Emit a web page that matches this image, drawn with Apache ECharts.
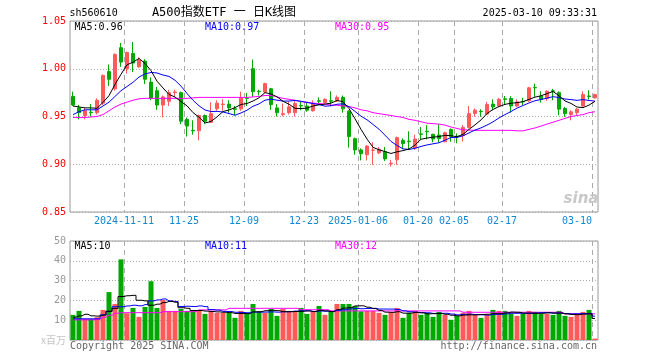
<!DOCTYPE html>
<html><head><meta charset="utf-8">
<script src="https://cdn.jsdelivr.net/npm/echarts@6/dist/echarts.min.js"></script>
<style>html,body{margin:0;padding:0;background:#fff}#c{width:660px;height:360px}</style>
</head><body><div id="c"></div>
<script>
const dates = [
'2024-10-29','2024-10-30','2024-10-31','2024-11-01','2024-11-04','2024-11-05','2024-11-06','2024-11-07','2024-11-08','2024-11-11',
'2024-11-12','2024-11-13','2024-11-14','2024-11-15','2024-11-18','2024-11-19','2024-11-20','2024-11-21','2024-11-22','2024-11-25',
'2024-11-26','2024-11-27','2024-11-28','2024-11-29','2024-12-02','2024-12-03','2024-12-04','2024-12-05','2024-12-06','2024-12-09',
'2024-12-10','2024-12-11','2024-12-12','2024-12-13','2024-12-16','2024-12-17','2024-12-18','2024-12-19','2024-12-20','2024-12-23',
'2024-12-24','2024-12-25','2024-12-26','2024-12-27','2024-12-30','2024-12-31','2025-01-02','2025-01-03','2025-01-06','2025-01-07',
'2025-01-08','2025-01-09','2025-01-10','2025-01-13','2025-01-14','2025-01-15','2025-01-16','2025-01-17','2025-01-20','2025-01-21',
'2025-01-22','2025-01-23','2025-01-24','2025-01-27','2025-02-05','2025-02-06','2025-02-07','2025-02-10','2025-02-11','2025-02-12',
'2025-02-13','2025-02-14','2025-02-17','2025-02-18','2025-02-19','2025-02-20','2025-02-21','2025-02-24','2025-02-25','2025-02-26',
'2025-02-27','2025-02-28','2025-03-03','2025-03-04','2025-03-05','2025-03-06','2025-03-07','2025-03-10'];

const labelDates = ['2024-11-11','2024-11-25','2024-12-09','2024-12-23','2025-01-06','2025-01-20','2025-02-05','2025-02-17','2025-03-10'];
const labelTexts = ['2024-11-11','11-25','12-09','12-23','2025-01-06','01-20','02-05','02-17','03-10'];

const opens = [.971,.959,.951,.9545,.954,.964,.997,.979,1.022,1.000, 1.016,1.002,1.008,.986,.977,.962,.966,.975,.975,.947,
 .9355,.935,.951,.944,.958,.9625,.963,.958,.958,.9695, 1.000,.9765,.9757,.979,.959,.952,.954,.954,.9615,.961,
 .956,.9665,.9646,.9665,.9664,.970,.9556,.9267,.915,.910, .9147,.912,.913,.9005,.9046,.925,.9242,.917,.9318,.9345,
 .9313,.9306,.9235,.9365,.9294,.930,.9386,.9532,.9555,.9525, .963,.9611,.9685,.9688,.961,.9658,.9664,.9805,.9712,.9688,
 .9769,.975,.9584,.952,.954,.961,.9715,.9695];
const closes = [.962,.954,.956,.954,.967,.993,.989,1.015,1.007,1.017, 1.006,1.009,.989,.969,.962,.9705,.975,.9757,.945,.940,
 .935,.951,.945,.953,.964,.963,.959,.9575,.9695,.969, .976,.976,.9844,.9625,.954,.953,.960,.9636,.961,.9566,
 .9636,.966,.968,.966,.970,.958,.929,.915,.911,.919, .915,.9157,.9056,.901,.9278,.9216,.9237,.9264,.9313,.934,
 .9264,.927,.933,.9289,.9289,.9386,.953,.9566,.955,.9625, .960,.968,.968,.961,.9653,.9653,.980,.980,.968,.9764,
 .9764,.9577,.953,.9549,.9577,.973,.971,.973];
const lows = [.961,.947,.947,.950,.952,.962,.982,.977,1.002,.995, .9965,1.001,.984,.967,.957,.949,.961,.9705,.942,.929,
 .931,.925,.942,.943,.956,.956,.954,.9515,.956,.961, .9705,.972,.9747,.957,.950,.950,.952,.950,.9566,.955,
 .955,.963,.9636,.961,.9653,.954,.9174,.910,.904,.904, .8994,.9105,.9035,.8976,.8994,.916,.915,.915,.926,.926,
 .923,.923,.923,.9237,.922,.9237,.9375,.9497,.9497,.9514, .9566,.960,.962,.954,.960,.962,.9653,.9705,.9646,.9664,
 .967,.9514,.9497,.946,.9514,.960,.9677,.9688];
const highs = [.976,.962,.959,.963,.969,.994,1.0045,1.016,1.027,1.018, 1.028,1.012,1.010,.991,.981,.972,.978,.978,.976,.949,
 .946,.952,.952,.965,.967,.968,.967,.961,.976,.9747, 1.0097,.978,.9854,.980,.963,.9636,.9657,.967,.9653,.9653,
 .967,.970,.969,.9764,.972,.972,.9566,.928,.9167,.920, .923,.918,.918,.9046,.929,.927,.9345,.931,.939,.941,
 .932,.9417,.934,.9375,.9323,.941,.961,.9584,.9577,.9653, .968,.9695,.9715,.9712,.968,.9695,.981,.9844,.9764,.9775,
 .979,.9764,.960,.9566,.959,.9764,.9775,.974];

const ma5 = [.961,.960,.959,.959,.9586,.9648,.9718,.9836,.9942,1.0042, 1.0068,1.0108,1.0056,.998,.987,.9799,.9731,.9704,.9656,.9612,
 .9541,.9493,.9432,.9448,.9496,.9552,.9568,.9593,.9626,.9636, .9662,.9696,.975,.9736,.9706,.966,.9628,.9586,.9583,.9588,
 .961,.9622,.963,.964,.9667,.9656,.9582,.9476,.9366,.9264, .9178,.9151,.9133,.9113,.913,.9143,.9159,.9201,.9262,.9274,
 .9284,.929,.9303,.9299,.9288,.9313,.9365,.9412,.9464,.9531, .9574,.9604,.9627,.9639,.9645,.9655,.9679,.9703,.9717,.9739,
 .9762,.9717,.9663,.9637,.9599,.9593,.9619,.9659];
const ma10 = [.952,.955,.957,.957,.957,.961,.965,.971,.977,.9814, .9858,.9913,.9946,.9961,.9956,.9934,.992,.988,.9818,.9741,
 .967,.9612,.9568,.9552,.9554,.9547,.9531,.9513,.9537,.9566, .9607,.9632,.9671,.9681,.9671,.9661,.9662,.9668,.966,.9647,
 .9635,.9625,.9608,.9612,.9628,.9633,.9602,.9553,.9503,.9466, .9417,.9367,.9304,.9239,.9197,.9161,.9155,.9167,.9187,.9202,
 .9214,.9225,.9252,.928,.9281,.9298,.9328,.9358,.9381,.941, .9444,.9485,.952,.9552,.9588,.9615,.9642,.9665,.9678,.9692,
 .9708,.9698,.9683,.9677,.9669,.9677,.9668,.9661];
const ma30 = [.949,.949,.949,.9495,.950,.952,.956,.960,.963,.965, .967,.9685,.969,.969,.969,.969,.969,.969,.969,.969,
 .9695,.970,.970,.970,.970,.970,.970,.970,.970,.970, .9705,.971,.972,.972,.9705,.969,.968,.967,.9655,.965,
 .964,.9636,.963,.962,.9618,.961,.9605,.959,.957,.956, .954,.953,.952,.951,.950,.949,.947,.946,.9445,.943,
 .9425,.942,.941,.939,.9375,.936,.9358,.9355,.9355,.9355, .9355,.9355,.9355,.9355,.935,.935,.9365,.938,.940,.942,
 .944,.946,.948,.950,.951,.952,.954,.955];

const volumes = [12.7,14.7,10.7,10.7,11.5,15.2,24.2,18.2,40.7,13.5, 16.2,11.7,16.7,29.7,16.2,20.2,14.7,14.7,15.7,14.7,
 14.7,14.7,13.2,14.7,13.7,13.7,13.8,11.2,14.7,13.2, 18.2,14.2,13.7,15.7,12.2,15.7,14.2,14.2,16.2,13.2,
 14.2,17.2,12.7,14.3,18.2,18.2,18.2,17.2,14.5,14.7, 14.7,13.7,12.7,14.0,16.2,11.2,13.7,14.7,12.7,13.7,
 11.7,14.2,12.7,10.2,12.2,13.7,14.7,12.7,11.2,12.7, 15.2,14.7,14.7,13.2,12.2,13.2,14.7,14.2,13.2,13.2,
 12.7,14.7,12.2,11.7,12.7,14.2,15.2,0.7];
const volMa5 = [11.5,12.2,13,12.2,12.06,12.56,14.46,15.96,21.96,22.36, 22.56,20.06,19.76,17.56,18.1,18.9,19.5,19.1,16.3,16,
 14.9,14.9,14.6,14.4,14.2,14,13.82,13.42,13.42,13.32, 14.22,14.3,14.8,15,14.8,14.3,14.3,14.4,14.5,14.7,
 14.4,15,14.7,14.32,15.32,16.12,16.32,17.22,17.26,16.56, 15.86,14.96,14.06,13.96,14.26,13.56,13.56,13.96,13.7,13.2,
 13.3,13.4,13,12.5,12.2,12.6,12.7,12.7,12.9,13, 13.3,13.3,13.7,14.1,14,13.6,13.6,13.5,13.5,13.7,
 13.6,13.6,13.2,12.9,12.8,13.1,13.2,10.9];
const volMa10 = [10.7,10.7,10.7,10.7,10.7,12.7,14.5,16.8,16.8,17.21, 17.56,17.26,17.86,19.76,20.23,20.73,19.78,19.43,16.93,17.05,
 16.9,17.2,16.85,15.35,15.1,14.45,14.36,14.01,13.91,13.76, 14.11,14.06,14.11,14.21,14.06,14.26,14.3,14.6,14.75,14.75,
 14.35,14.65,14.55,14.41,15.01,15.26,15.66,15.96,15.79,15.94, 15.99,15.64,15.64,15.61,15.41,14.71,14.26,14.01,13.83,13.73,
 13.43,13.48,13.48,13.1,12.7,12.95,13.05,12.85,12.7,12.6, 12.95,13,13.2,13.5,13.5,13.45,13.45,13.6,13.8,13.85,
 13.6,13.6,13.35,13.2,13.25,13.35,13.4,12.05];
const volMa30 = [10.2,10.2,10.2,10.2,10.5,11.5,12.5,13.5,13.8,13.8, 13.8,13.8,13.8,13.8,13.8,14.3,14.3,14.3,14.3,14.3,
 14.3,15.2,15.2,15.2,15.2,15.2,16,16,16,16, 16,16,16,16,16,16,16,16,15.3,15.3,
 15.3,15.3,15.3,14.7,14.7,14.7,14.7,14.7,14.7,14.7, 14.7,14.7,14.7,14.7,14.7,14.7,14.7,14.7,14.7,14.7,
 14.7,14.7,14.7,14.7,14.7,14,14,14,14,14, 14,14,14,14,14,14,14,14,14,14,
 14,14,13.2,13.2,13.2,13.2,13.2,13.2];

const MONO = '"DejaVu Sans Mono", monospace';
const UP = '#ff5a5a', DOWN = '#00a800';
const XCOL = '#1088d4';
const GRIDC = '#aaaaaa';

const chart = echarts.init(document.getElementById('c'), null, {renderer: 'canvas'});
const candle = dates.map((d, i) => [opens[i], closes[i], lows[i], highs[i]]);
const volData = volumes.map((v, i) => ({value: v, itemStyle: {color: closes[i] >= opens[i] ? UP : DOWN}}));

function xAxisFor(gi, withLabels) {
  return {
    type: 'category', gridIndex: gi, data: dates, boundaryGap: true,
    axisLine: {show: false}, axisTick: {show: false},
    axisLabel: withLabels ? {
      show: true, interval: 0, margin: 4,
      color: XCOL, fontFamily: MONO, fontSize: 10,
      formatter: function (val) {
        const k = labelDates.indexOf(val);
        if (k < 0) return '';
        return labelTexts[k] + (k === labelDates.length - 1 ? '      ' : ' ');
      }
    } : {show: false},
    splitLine: {show: false}
  };
}

// Vertical dashed date guides, drawn as a custom series: x comes from the
// category axis (left edge of the date's slot), y spans the panel.
function guideSeries(xi, yi, yBase) {
  return {
    type: 'custom', xAxisIndex: xi, yAxisIndex: yi, silent: true, z: 1,
    animation: false, tooltip: {show: false},
    data: labelDates.map(d => [d, yBase]),
    renderItem: function (params, api) {
      const cs = params.coordSys;
      const c = api.coord([api.value(0), yBase]);
      const w = api.size([1, 0])[0];
      const x = Math.round(c[0] - w / 2) + 0.5;
      return {
        type: 'line',
        shape: {x1: x, y1: cs.y, x2: x, y2: cs.y + cs.height},
        style: {stroke: GRIDC, lineWidth: 1, lineDash: [5, 4], fill: null}
      };
    }
  };
}

function txt(x, y, text, fill, opts) {
  opts = opts || {};
  return {
    type: 'text', x: x, y: y, silent: true, z: 100,
    style: {
      text: text, fill: fill,
      font: opts.font || ('10px ' + MONO),
      align: opts.align || 'left', verticalAlign: 'middle',
      textAlign: opts.align || 'left', textVerticalAlign: 'middle'
    }
  };
}

const option = {
  animation: false,
  backgroundColor: '#ffffff',
  grid: [
    {left: 70, top: 21, width: 528, height: 191, show: true, borderColor: '#999', borderWidth: 1, backgroundColor: 'transparent'},
    {left: 70, top: 241, width: 528, height: 99, show: true, borderColor: '#999', borderWidth: 1, backgroundColor: 'transparent'}
  ],
  xAxis: [xAxisFor(0, true), xAxisFor(1, false)],
  yAxis: [
    {type: 'value', gridIndex: 0, min: 0.85, max: 1.05, interval: 0.05, scale: true,
     axisLine: {show: false}, axisTick: {show: false},
     axisLabel: {color: '#ff0000', fontFamily: MONO, fontSize: 10, margin: 4, formatter: v => v.toFixed(2)},
     splitLine: {show: true, lineStyle: {color: GRIDC, type: [1, 2], width: 1}}},
    {type: 'value', gridIndex: 1, min: 0, max: 50, interval: 10,
     axisLine: {show: false}, axisTick: {show: false},
     axisLabel: {color: '#999999', fontFamily: MONO, fontSize: 10, margin: 4,
       formatter: v => v === 0 ? '{u|x百万}' : String(v),
       rich: {u: {color: '#c4c4c4', fontFamily: '"Noto Sans CJK SC", sans-serif', fontSize: 10}}},
     splitLine: {show: true, lineStyle: {color: GRIDC, type: [1, 2], width: 1}}}
  ],
  series: [
    guideSeries(0, 0, 0.85),
    guideSeries(1, 1, 0),
    {type: 'candlestick', xAxisIndex: 0, yAxisIndex: 0, data: candle, barWidth: 4, z: 2,
     itemStyle: {color: UP, color0: DOWN, borderColor: UP, borderColor0: DOWN, borderWidth: 1}},
    {type: 'line', xAxisIndex: 0, yAxisIndex: 0, data: ma30, showSymbol: false, symbol: 'none',
     lineStyle: {color: '#ff00ff', width: 1}, z: 3},
    {type: 'line', xAxisIndex: 0, yAxisIndex: 0, data: ma10, showSymbol: false, symbol: 'none',
     lineStyle: {color: '#0000ff', width: 1}, z: 4},
    {type: 'line', xAxisIndex: 0, yAxisIndex: 0, data: ma5, showSymbol: false, symbol: 'none',
     lineStyle: {color: '#000000', width: 1}, z: 5},
    {type: 'bar', xAxisIndex: 1, yAxisIndex: 1, data: volData, barWidth: 5, z: 2},
    {type: 'line', xAxisIndex: 1, yAxisIndex: 1, data: volMa30, showSymbol: false, symbol: 'none', step: 'middle',
     lineStyle: {color: '#ff00ff', width: 1}, z: 3},
    {type: 'line', xAxisIndex: 1, yAxisIndex: 1, data: volMa10, showSymbol: false, symbol: 'none', step: 'middle',
     lineStyle: {color: '#0000ff', width: 1}, z: 4},
    {type: 'line', xAxisIndex: 1, yAxisIndex: 1, data: volMa5, showSymbol: false, symbol: 'none', step: 'middle',
     lineStyle: {color: '#000000', width: 1}, z: 5}
  ],
  graphic: [
    txt(69.5, 13, 'sh560610', '#000'),
    txt(224, 13, 'A500指数ETF 一 日K线图', '#000', {align: 'center', font: '12px "DejaVu Sans Mono", "Noto Sans CJK SC"'}),
    txt(597, 13, '2025-03-10 09:33:31', '#000', {align: 'right'}),
    txt(74.5, 27, 'MA5:0.96', '#000'),
    txt(205, 27, 'MA10:0.97', '#0000ff'),
    txt(335, 27, 'MA30:0.95', '#ff00ff'),
    txt(74.5, 246, 'MA5:10', '#000'),
    txt(205, 246, 'MA10:11', '#0000ff'),
    txt(335, 246, 'MA30:12', '#ff00ff'),
    txt(70, 346, 'Copyright 2025 SINA.COM', '#666'),
    txt(597, 346, 'http://finance.sina.com.cn', '#666', {align: 'right'}),
    txt(581, 199, 'sina', '#c8c8c8', {align: 'center', font: 'italic bold 15px "DejaVu Sans", sans-serif'})
  ]
};
chart.setOption(option);
</script></body></html>
